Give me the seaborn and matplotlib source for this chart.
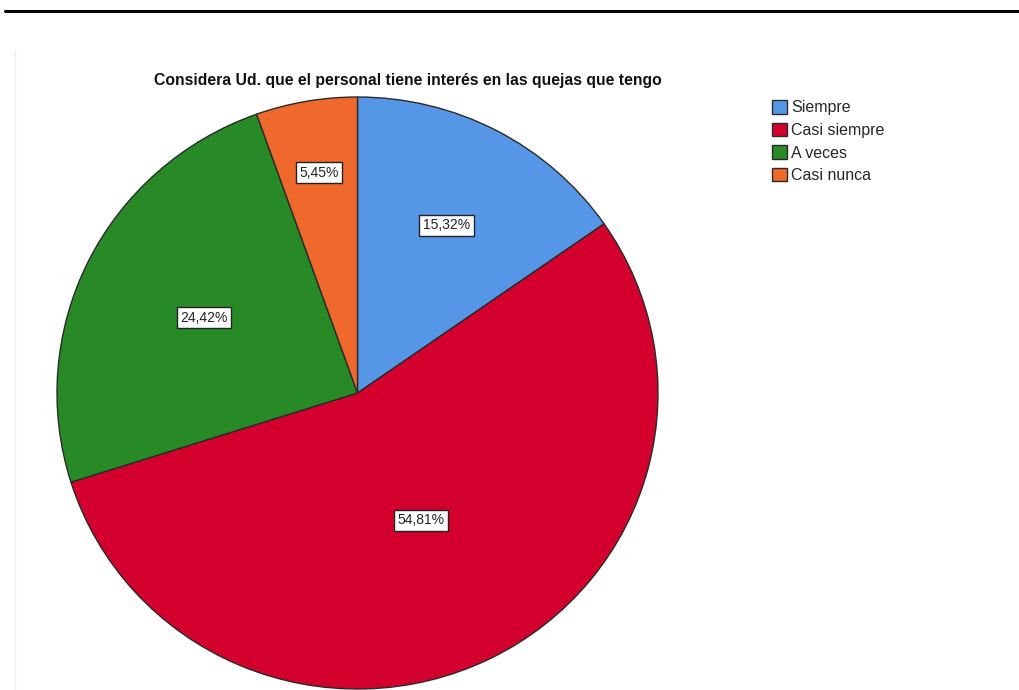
import numpy as np
import matplotlib
matplotlib.use("Agg")
import matplotlib.pyplot as plt
from matplotlib.lines import Line2D
import seaborn as sns

# Survey answers and their shares (%)
categories = ["Siempre", "Casi siempre", "A veces", "Casi nunca"]
shares = [15.32, 54.81, 24.42, 5.45]
colors = ["#5597E6", "#D3002E", "#278A27", "#F0692C"]
title = "Considera Ud. que el personal tiene interés en las quejas que tengo"

# radial position of each percentage box, as a fraction of the radius
label_radius = [0.64, 0.48, 0.57, 0.755]

sns.set_style("white")
plt.rcParams["font.family"] = ["Liberation Sans", "DejaVu Sans"]

fig = plt.figure(figsize=(10.19, 6.9), dpi=100)
ax = fig.add_axes([57 / 1019, 1 / 690, 601 / 1019, 592 / 690])

wedges, _ = ax.pie(
    shares,
    colors=sns.color_palette(colors),
    startangle=90,
    counterclock=False,
    wedgeprops=dict(edgecolor="#2a2a2a", linewidth=1.0),
)
ax.set_aspect("auto")
ax.set_xlim(-1, 1)
ax.set_ylim(-1, 1)
ax.axis("off")
for w in wedges:
    w.set_clip_on(False)

# percentage boxes at the middle angle of each wedge
for w, val, rf in zip(wedges, shares, label_radius):
    mid = np.deg2rad((w.theta1 + w.theta2) / 2)
    ax.text(
        rf * np.cos(mid), rf * np.sin(mid),
        f"{val:.2f}%".replace(".", ","),
        ha="center", va="center", fontsize=10, color="#222222",
        bbox=dict(boxstyle="square,pad=0.25", facecolor="white",
                  edgecolor="#222222", linewidth=1.0),
    )

fig.text(408 / 1019, 1 - 80 / 690, title, ha="center", va="center",
         fontsize=11.3, fontweight="bold", color="#111111")

fig.legend(
    handles=wedges, labels=categories,
    loc="upper left", bbox_to_anchor=(772 / 1019, 1 - 100 / 690),
    frameon=False, fontsize=11.5, handlelength=0.95, handleheight=0.95,
    handletextpad=0.25, labelspacing=0.45, borderpad=0, borderaxespad=0,
)

# rule across the top of the page and faint frame edge on the left
fig.add_artist(Line2D([5 / 1019, 1], [1 - 11 / 690] * 2,
                      color="black", lw=2.2, transform=fig.transFigure))
fig.add_artist(Line2D([15 / 1019] * 2, [0, 1 - 50 / 690],
                      color="#f0f0f0", lw=1.0, transform=fig.transFigure))

fig.savefig("out.png", dpi=100)
